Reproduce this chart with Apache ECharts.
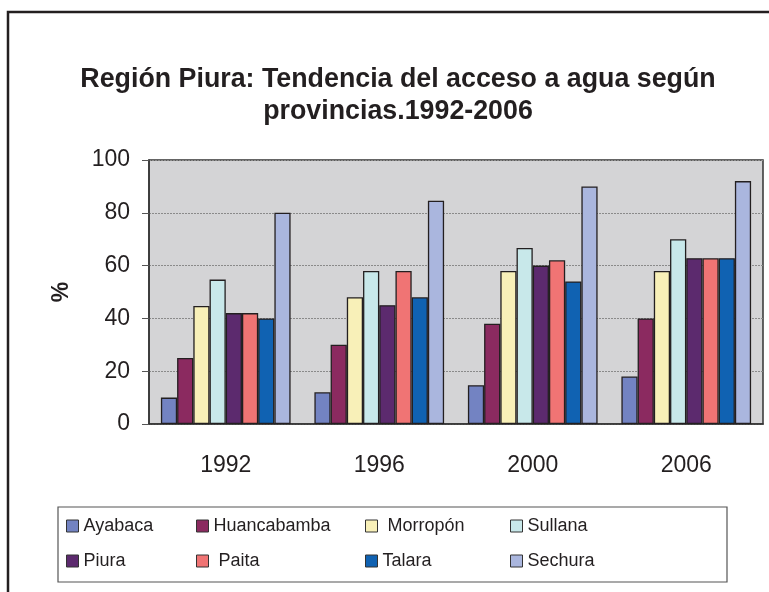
<!DOCTYPE html>
<html>
<head>
	<meta charset="utf-8">
	<title>Región Piura</title>
	<script src="https://cdn.jsdelivr.net/npm/echarts@6/dist/echarts.min.js"></script>
	<style type="text/css">
		html, body { margin: 0; padding: 0; background-color: #fff; }
		#chartBox { width: 769px; height: 592px; }
	</style>
</head>
<body>
<div id="chartBox"></div>

<script>
	// años
	var years = ['1992', '1996', '2000', '2006'];
	// provincias
	var provinces = ['Ayabaca', 'Huancabamba', ' Morropón', 'Sullana', 'Piura', ' Paita', 'Talara', 'Sechura'];
	var colors = ['#7383c2', '#8b2a60', '#f8f0b8', '#c8e8ea', '#5c2a6e', '#f07474', '#1062b2', '#aab6de'];

	// % acceso a agua, por provincia
	var ayabaca = [10, 12, 14.7, 18];
	var huancabamba = [25, 30, 38, 40];
	var morropon = [44.7, 48, 58, 58];
	var sullana = [54.7, 58, 66.7, 70];
	var piura = [42, 45, 60, 62.8];
	var paita = [42, 58, 62, 62.8];
	var talara = [40, 48, 54, 62.8];
	var sechura = [80, 84.6, 90, 92];
	var values = [ayabaca, huancabamba, morropon, sullana, piura, paita, talara, sechura];

	var yTicks = [0, 20, 40, 60, 80, 100];

	// legend positions (2 rows x 4 cols)
	var legendLeft = [66, 196, 365, 510];
	var legendTop = [517, 552];

	var myChart = echarts.init(document.getElementById('chartBox'));

	var series = [];
	var legends = [];
	for (var i = 0; i < provinces.length; i++) {
		series.push({
			name: provinces[i],
			type: 'bar',
			data: values[i],
			barGap: '0%',
			barCategoryGap: '15.5%',
			itemStyle: { color: colors[i], borderColor: '#231f20', borderWidth: 1.3 }
		});
		legends.push({
			data: [provinces[i]],
			left: legendLeft[i % 4],
			top: legendTop[Math.floor(i / 4)],
			icon: 'rect',
			itemWidth: 12,
			itemHeight: 12,
			padding: 0,
			selectedMode: false,
			itemStyle: { borderColor: '#333', borderWidth: 1 },
			textStyle: { fontFamily: 'Liberation Sans', fontSize: 18, color: '#231f20' }
		});
	}

	var options = {
		animation: false,
		backgroundColor: '#fff',
		title: {
			text: 'Región Piura: Tendencia del acceso a agua según\nprovincias.1992-2006',
			left: 393,
			top: 59,
			textAlign: 'center',
			textStyle: {
				fontFamily: 'Liberation Sans',
				fontWeight: 'bold',
				fontSize: 26.8,
				lineHeight: 32,
				color: '#231f20'
			}
		},
		legend: legends,
		graphic: [
			{ type: 'rect', shape: { x: 8, y: 12, width: 900, height: 700 }, style: { fill: 'none', stroke: '#231f20', lineWidth: 2.5 }, silent: true },
			{ type: 'rect', shape: { x: 58, y: 507, width: 669, height: 75 }, style: { fill: 'none', stroke: '#555', lineWidth: 1.2 }, silent: true }
		],
		grid: {
			left: 149,
			right: 6,
			top: 160,
			bottom: 168,
			show: true,
			backgroundColor: '#d4d4d6',
			borderColor: '#333',
			borderWidth: 1.5
		},
		xAxis: [{
			type: 'category',
			data: years,
			axisLine: { lineStyle: { color: '#333', width: 1.5 } },
			axisTick: { length: 6, lineStyle: { color: '#555' } },
			axisLabel: { fontFamily: 'Liberation Sans', fontSize: 23, color: '#231f20', margin: 30 }
		}],
		yAxis: [{
			type: 'value',
			min: yTicks[0],
			max: yTicks[yTicks.length - 1],
			interval: 20,
			name: '%',
			nameLocation: 'middle',
			nameRotate: 90,
			nameGap: 76,
			nameTextStyle: { fontFamily: 'Liberation Sans', fontWeight: 'bold', fontSize: 23, color: '#231f20' },
			axisLine: { show: true, lineStyle: { color: '#333', width: 1.5 } },
			axisTick: { show: true, length: 7, lineStyle: { color: '#555' } },
			axisLabel: { fontFamily: 'Liberation Sans', fontSize: 23, color: '#231f20', margin: 19 },
			splitLine: { lineStyle: { color: '#8a8a8a', type: [2, 1], width: 1 } }
		}],
		series: series
	};
	myChart.setOption(options);
</script>
</body>
</html>
